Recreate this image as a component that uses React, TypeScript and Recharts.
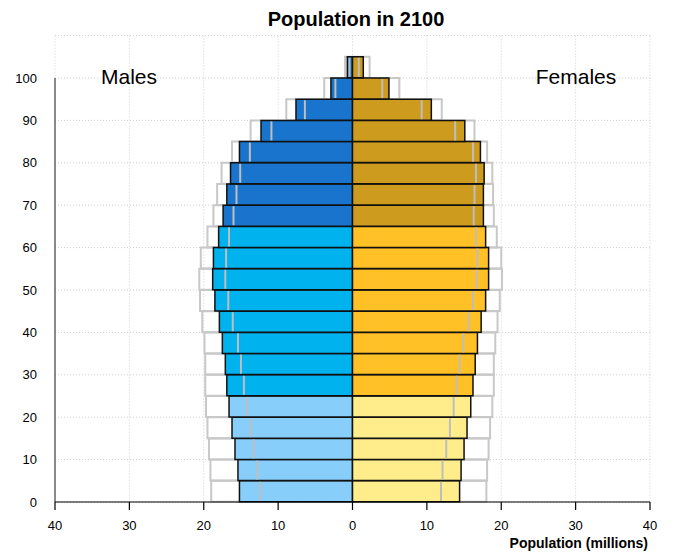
import React from 'react';
import { ComposedChart, Bar, XAxis, YAxis, CartesianGrid, ReferenceLine, Cell } from 'recharts';

// Age groups (lower bound of each 5-year band)
const ageGroups = [0, 5, 10, 15, 20, 25, 30, 35, 40, 45, 50, 55, 60, 65, 70, 75, 80, 85, 90, 95, 100];

// Males (millions)
const maleMedian = [15.2, 15.4, 15.8, 16.2, 16.6, 16.9, 17.1, 17.5, 17.9, 18.5, 18.8, 18.7, 18.0, 17.4, 16.9, 16.4, 15.2, 12.3, 7.6, 2.9, 0.7];
const maleLower = [12.4, 12.8, 13.3, 13.7, 14.2, 14.6, 15.0, 15.4, 16.1, 16.7, 17.1, 17.0, 16.6, 16.0, 15.6, 15.1, 13.8, 10.9, 6.4, 2.3, 0.4];
const maleUpper = [19.0, 19.1, 19.3, 19.5, 19.7, 19.8, 19.8, 19.9, 20.2, 20.5, 20.6, 20.4, 19.5, 18.7, 18.2, 17.6, 16.2, 13.7, 8.9, 3.8, 1.0];

// Females (millions)
const femaleMedian = [14.4, 14.6, 15.0, 15.4, 15.9, 16.2, 16.5, 16.8, 17.3, 17.9, 18.3, 18.3, 17.9, 17.6, 17.6, 17.7, 17.2, 15.1, 10.6, 4.9, 1.45];
const femaleLower = [11.9, 12.1, 12.6, 13.1, 13.6, 14.0, 14.4, 14.9, 15.6, 16.2, 16.7, 16.8, 16.6, 16.3, 16.4, 16.6, 16.2, 13.8, 9.3, 4.0, 0.85];
const femaleUpper = [18.0, 18.1, 18.3, 18.5, 18.8, 19.0, 19.0, 19.2, 19.5, 19.8, 20.1, 20.0, 19.4, 19.0, 18.9, 18.8, 18.1, 16.4, 12.0, 6.3, 2.3];

const xTicks = [-40, -30, -20, -10, 0, 10, 20, 30, 40];
const yTicks = [0, 10, 20, 30, 40, 50, 60, 70, 80, 90, 100];

const data: any[] = [
  ...ageGroups.map((age, i) => ({
    age,
    mHigh: -maleUpper[i],
    fHigh: femaleUpper[i],
    mMain: -maleMedian[i],
    fMain: femaleMedian[i],
    mLow: -maleLower[i],
    fLow: femaleLower[i],
  })),
  { age: 105 },
];

const maleColor = (age: number) => (age < 25 ? '#87CEFA' : age < 65 ? '#00B2EE' : '#1874CD');
const femaleColor = (age: number) => (age < 25 ? '#FFEC8B' : age < 65 ? '#FFC125' : '#CD9B1D');

const lowShape = (side: 'm' | 'f') => (props: any) => {
  const { x, y, width, height } = props;
  if (!width || !height || isNaN(width)) return <g />;
  const lx = side === 'm' ? Math.min(x, x + width) : Math.max(x, x + width);
  return <line x1={lx} x2={lx} y1={y + 1} y2={y + height - 1} stroke="#BEBEBE" strokeWidth={2} />;
};

const FONT = '"Liberation Sans", Arial, sans-serif';

export default function App() {
  return (
    <div style={{ position: 'absolute', left: 0, top: 0, width: 675, height: 552, background: '#fff' }}>
      <ComposedChart
        width={675}
        height={552}
        data={data}
        layout="vertical"
        stackOffset="sign"
        barCategoryGap={0}
        barGap={0}
        margin={{ top: 35.6, right: 25, left: 0, bottom: 0 }}
        style={{ fontFamily: FONT }}
      >
        <CartesianGrid yAxisId="num" stroke="#D0D0D0" strokeDasharray="1 2" />
        <XAxis
          type="number"
          domain={[-40, 40]}
          ticks={xTicks}
          interval={0}
          allowDataOverflow
          tickFormatter={(v: number) => String(Math.abs(v))}
          tick={{ fill: '#000', fontSize: 13, fontFamily: FONT }}
          tickSize={8}
          tickMargin={11}
          axisLine={{ stroke: '#000', strokeWidth: 1.2 }}
          tickLine={{ stroke: '#000', strokeWidth: 1.2 }}
          height={50}
        />
        <YAxis
          yAxisId="num"
          orientation="left"
          type="number"
          dataKey="age"
          domain={[0, 110]}
          ticks={yTicks}
          interval={0}
          allowDataOverflow
          reversed
          width={55}
          tickLine={false}
          axisLine={false}
          tickSize={0}
          tickMargin={18}
          tick={{ fill: '#000', fontSize: 13, fontFamily: FONT }}
        />
        <YAxis yAxisId="outer" orientation="right" width={0} type="category" dataKey="age" reversed hide />
        <YAxis yAxisId="main" orientation="right" width={0} type="category" dataKey="age" reversed hide />
        <YAxis yAxisId="low" orientation="right" width={0} type="category" dataKey="age" reversed hide />

        <ReferenceLine
          yAxisId="num"
          segment={[{ x: -40, y: 0 }, { x: -40, y: 100 }]}
          stroke="#666"
          strokeWidth={1.5}
        />

        <Bar yAxisId="outer" dataKey="mHigh" stackId="o" fill="none" stroke="#C8C8C8" strokeWidth={2} isAnimationActive={false} />
        <Bar yAxisId="outer" dataKey="fHigh" stackId="o" fill="none" stroke="#C8C8C8" strokeWidth={2} isAnimationActive={false} />

        <Bar yAxisId="main" dataKey="mMain" stackId="m" stroke="#111" strokeWidth={1.5} isAnimationActive={false}>
          {data.map((d, i) => (
            <Cell key={i} fill={maleColor(d.age)} />
          ))}
        </Bar>
        <Bar yAxisId="main" dataKey="fMain" stackId="m" stroke="#111" strokeWidth={1.5} isAnimationActive={false}>
          {data.map((d, i) => (
            <Cell key={i} fill={femaleColor(d.age)} />
          ))}
        </Bar>

        <Bar yAxisId="low" dataKey="mLow" stackId="l" shape={lowShape('m')} isAnimationActive={false} />
        <Bar yAxisId="low" dataKey="fLow" stackId="l" shape={lowShape('f')} isAnimationActive={false} />

        <text x={356} y={26} textAnchor="middle" fontWeight="bold" fontSize={20} fontFamily={FONT} fill="#000">
          Population in 2100
        </text>
        <text x={129} y={84} textAnchor="middle" fontSize={21} fontFamily={FONT} fill="#000">
          Males
        </text>
        <text x={576} y={84} textAnchor="middle" fontSize={21} fontFamily={FONT} fill="#000">
          Females
        </text>
        <text x={648} y={548} textAnchor="end" fontWeight="bold" fontSize={14} fontFamily={FONT} fill="#000">
          Population (millions)
        </text>
      </ComposedChart>
    </div>
  );
}
